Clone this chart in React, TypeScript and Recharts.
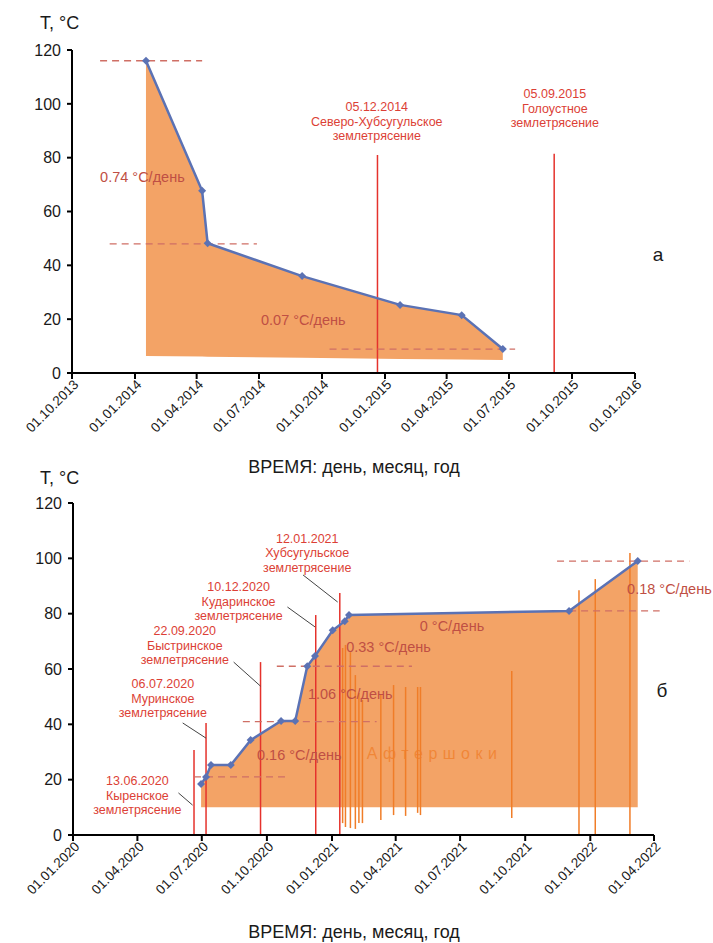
import React from 'react'
import { ComposedChart, Area, Line, XAxis, YAxis, ReferenceLine, Scatter } from 'recharts'

const FONT = '"Liberation Sans", Arial, sans-serif'
const FILL = '#f3a366'
const BLUE = '#5b72b4'
const QUAKE = '#e5322c'
const QUAKE_TEXT = '#dc3f36'
const RATE_TEXT = '#bf4f44'
const DASH = '#cf6f65'
const SHOCK = '#f07d28'

// panel а
const topTicks = ['01.10.2013', '01.01.2014', '01.04.2014', '01.07.2014', '01.10.2014', '01.01.2015', '01.04.2015', '01.07.2015', '01.10.2015', '01.01.2016']
const topDates = ['17.01.2014', '09.04.2014', '17.04.2014', '02.09.2014', '23.01.2015', '23.04.2015', '22.06.2015']
const topTemps = [116, 67.7, 48.2, 36, 25.3, 21.5, 8.9]
const topBase = [6.3, 6.1, 6.0, 5.7, 5.2, 5.0, 4.8]
const topQuakeDates = ['21.12.2014', '05.09.2015']
const topQuakeTops = [81, 81.5]
const topQuakeNames = [['05.12.2014', 'Северо-Хубсугульское', 'землетрясение'], ['05.09.2015', 'Голоустное', 'землетрясение']]
const topQuakeLabelAt: [string, number][] = [['20.12.2014', 98.9], ['06.09.2015', 103.7]]
const topLevels = [116, 48, 8.9]
const topLevelSpans = [['11.11.2013', '09.04.2014'], ['25.11.2013', '28.06.2014'], ['12.10.2014', '10.07.2015']]
const topRates = ['0.74 °C/день', '0.07 °C/день']
const topRateAt: [string, number][] = [['11.11.2013', 72.9], ['04.07.2014', 19.7]]

// panel б
const bottomTicks = ['01.01.2020', '01.04.2020', '01.07.2020', '01.10.2020', '01.01.2021', '01.04.2021', '01.07.2021', '01.10.2021', '01.01.2022', '01.04.2022']
const bottomDates = ['30.06.2020', '07.07.2020', '14.07.2020', '11.08.2020', '08.09.2020', '21.10.2020', '10.11.2020', '27.11.2020', '08.12.2020', '02.01.2021', '19.01.2021', '25.01.2021', '02.12.2021', '09.03.2022']
const bottomTemps = [18.4, 21, 25.3, 25.3, 34.3, 41.2, 41.2, 61, 64.7, 74, 77.3, 79.5, 81, 99]
const bottomBase = [10, 10, 10, 10, 10, 10, 10, 10, 10, 10, 10, 10, 10, 10]
const bottomQuakeDates = ['20.06.2020', '07.07.2020', '22.09.2020', '09.12.2020', '12.01.2021']
const bottomQuakeTops = [30.7, 40.5, 62.5, 79.5, 87.5]
const bottomQuakeNames = [
  ['13.06.2020', 'Кыренское', 'землетрясение'],
  ['06.07.2020', 'Муринское', 'землетрясение'],
  ['22.09.2020', 'Быстринское', 'землетрясение'],
  ['10.12.2020', 'Кударинское', 'землетрясение'],
  ['12.01.2021', 'Хубсугульское', 'землетрясение'],
]
const bottomQuakeLabelAt: [string, number][] = [['01.04.2020', 19.5], ['07.05.2020', 54.6], ['07.06.2020', 73.7], ['22.08.2020', 89.6], ['27.11.2020', 107.3]]
const leaderFrom: [string, number][] = [['29.05.2020', 15.2], ['04.06.2020', 40.5], ['15.08.2020', 62.5], ['30.10.2020', 82.4], ['21.11.2020', 94]]
const leaderTo: [string, number][] = [['18.06.2020', 10.8], ['07.07.2020', 35], ['22.09.2020', 53.8], ['08.12.2020', 75.2], ['09.01.2021', 84.2]]
const bottomLevels = [21, 41, 61, 81, 99]
const bottomLevelSpans = [['20.06.2020', '30.10.2020'], ['28.08.2020', '05.03.2021'], ['15.10.2020', '24.04.2021'], ['02.12.2021', '09.04.2022'], ['15.11.2021', '21.05.2022']]
const bottomRates = ['0.16 °C/день', '1.06 °C/день', '0.33 °C/день', '0 °C/день', '0.18 °C/день']
const bottomRateAt: [string, number][] = [['17.09.2020', 28.9], ['28.11.2020', 51], ['21.01.2021', 67.9], ['05.05.2021', 75.5], ['22.02.2022', 88.9]]
const shockDates = ['16.01.2021', '20.01.2021', '27.01.2021', '03.02.2021', '08.02.2021', '13.02.2021', '11.03.2021', '29.03.2021', '15.04.2021', '02.05.2021', '06.05.2021', '12.09.2021', '16.12.2021', '08.01.2022', '26.02.2022']
const shockTops = [67.6, 68.7, 66.1, 57.8, 51.3, 48.8, 50.6, 54.2, 53.5, 53.5, 53.5, 59.3, 88.5, 92.5, 101.9]
const shockBottoms = [4.3, 2.9, 2.5, 2.2, 4.3, 4.3, 5.4, 7.2, 6.9, 8, 7.2, 6.1, 0, 0, 0]
const shockTitle = 'Афтершоки'
const shockTitleAt: [string, number] = ['19.02.2021', 29.6]

function d(s: string) {
  const [dd, mm, yy] = s.split('.').map(Number)
  return Date.UTC(yy, mm - 1, dd)
}

function fmt(t: number) {
  const x = new Date(t)
  const p = (n: number) => String(n).padStart(2, '0')
  return `${p(x.getUTCDate())}.${p(x.getUTCMonth() + 1)}.${x.getUTCFullYear()}`
}

const AXIS = { stroke: '#000', strokeWidth: 2 }

function DateTick({ x, y, payload }: any) {
  return (
    <g transform={`translate(${x + 4},${y + 1})`}>
      <text x={0} y={0} dy="0.35em" textAnchor="end" transform="rotate(-45)" fontSize={13.5} fill="#1a1a1a" fontFamily={FONT}>
        {fmt(payload.value)}
      </text>
    </g>
  )
}

function Diamond({ cx, cy }: any) {
  if (cx == null || cy == null) return null
  return <path d={`M${cx},${cy - 4}L${cx + 4},${cy}L${cx},${cy + 4}L${cx - 4},${cy}Z`} fill={BLUE} />
}

function NoteShape({ cx, cy, payload }: any) {
  if (cx == null || cy == null) return null
  if (payload.kind === 'quake') {
    return (
      <text x={cx} y={cy} textAnchor="middle" fontSize={12.5} fill={QUAKE_TEXT} fontFamily={FONT}>
        {payload.lines.map((l: string, i: number) => (
          <tspan key={i} x={cx} dy={i === 0 ? '0.35em' : 14.5}>{l}</tspan>
        ))}
      </text>
    )
  }
  if (payload.kind === 'shock') {
    return (
      <text x={cx} y={cy} dy="0.35em" fontSize={16} letterSpacing={5.5} fill={SHOCK} fillOpacity={0.75} fontFamily={FONT}>
        {payload.lines[0]}
      </text>
    )
  }
  return (
    <text x={cx} y={cy} dy="0.35em" fontSize={14.5} fill={RATE_TEXT} fontFamily={FONT}>
      {payload.lines[0]}
    </text>
  )
}

function Panel({ height, margin, ticks, dates, temps, base, quakeDates, quakeTops, levels, levelSpans, leaders, shocks, notes }: any) {
  const data = dates.map((s: string, i: number) => ({ x: d(s), t: temps[i], range: [base[i], temps[i]] }))
  const tickVals = ticks.map(d)
  return (
    <ComposedChart width={713} height={height} data={data} margin={margin}>
      <XAxis
        dataKey="x"
        type="number"
        domain={[tickVals[0], tickVals[tickVals.length - 1]]}
        ticks={tickVals}
        interval={0}
        tick={<DateTick />}
        tickSize={6}
        height={80}
        axisLine={AXIS}
        tickLine={AXIS}
      />
      <YAxis
        type="number"
        domain={[0, 120]}
        ticks={[0, 20, 40, 60, 80, 100, 120]}
        width={50}
        tickSize={5}
        tickMargin={6}
        tick={{ fontSize: 16, fill: '#1a1a1a', fontFamily: FONT }}
        axisLine={AXIS}
        tickLine={AXIS}
      />
      <Area dataKey="range" type="linear" stroke="none" fill={FILL} fillOpacity={1} isAnimationActive={false} />
      {shocks.map((s: any, i: number) => (
        <ReferenceLine key={'s' + i} segment={[{ x: s.x, y: s.bottom }, { x: s.x, y: s.top }]} stroke={SHOCK} strokeWidth={1.5} ifOverflow="visible" />
      ))}
      {quakeDates.map((q: string, i: number) => (
        <ReferenceLine key={'q' + i} segment={[{ x: d(q), y: 0 }, { x: d(q), y: quakeTops[i] }]} stroke={QUAKE} strokeWidth={1.5} ifOverflow="visible" />
      ))}
      {levels.map((lv: number, i: number) => (
        <ReferenceLine key={'l' + i} segment={[{ x: d(levelSpans[i][0]), y: lv }, { x: d(levelSpans[i][1]), y: lv }]} stroke={DASH} strokeWidth={1.3} strokeDasharray="7 5" ifOverflow="visible" />
      ))}
      {leaders.map((ld: any, i: number) => (
        <ReferenceLine key={'ld' + i} segment={[{ x: d(ld[0][0]), y: ld[0][1] }, { x: d(ld[1][0]), y: ld[1][1] }]} stroke="#444" strokeWidth={1} ifOverflow="visible" />
      ))}
      <Line dataKey="t" type="linear" stroke={BLUE} strokeWidth={2.5} dot={(p: any) => <Diamond key={p.index} {...p} />} isAnimationActive={false} />
      <Scatter data={notes} dataKey="t" shape={(p: any) => <NoteShape {...p} />} isAnimationActive={false} />
    </ComposedChart>
  )
}

const topNotes = [
  ...topQuakeNames.map((lines, i) => ({ x: d(topQuakeLabelAt[i][0]), t: topQuakeLabelAt[i][1], lines, kind: 'quake' })),
  ...topRates.map((r, i) => ({ x: d(topRateAt[i][0]), t: topRateAt[i][1], lines: [r], kind: 'rate' })),
]

const bottomNotes = [
  ...bottomQuakeNames.map((lines, i) => ({ x: d(bottomQuakeLabelAt[i][0]), t: bottomQuakeLabelAt[i][1], lines, kind: 'quake' })),
  ...bottomRates.map((r, i) => ({ x: d(bottomRateAt[i][0]), t: bottomRateAt[i][1], lines: [r], kind: 'rate' })),
  { x: d(shockTitleAt[0]), t: shockTitleAt[1], lines: [shockTitle], kind: 'shock' },
]

const shocks = shockDates.map((s, i) => ({ x: d(s), top: shockTops[i], bottom: shockBottoms[i] }))
const leaders = leaderFrom.map((f, i) => [f, leaderTo[i]])

export default function App() {
  const txt = { fontFamily: FONT, fill: '#1a1a1a' }
  return (
    <div style={{ position: 'relative', width: 713, height: 943, background: '#fff', overflow: 'hidden' }}>
      <style>{'body{margin:0}'}</style>
      <div style={{ position: 'absolute', left: 0, top: 0 }}>
        <Panel
          height={480}
          margin={{ top: 50, right: 78, left: 22, bottom: 27 }}
          ticks={topTicks}
          dates={topDates}
          temps={topTemps}
          base={topBase}
          quakeDates={topQuakeDates}
          quakeTops={topQuakeTops}
          levels={topLevels}
          levelSpans={topLevelSpans}
          leaders={[]}
          shocks={[]}
          notes={topNotes}
        />
      </div>
      <div style={{ position: 'absolute', left: 0, top: 470 }}>
        <Panel
          height={473}
          margin={{ top: 33, right: 59, left: 23, bottom: 28 }}
          ticks={bottomTicks}
          dates={bottomDates}
          temps={bottomTemps}
          base={bottomBase}
          quakeDates={bottomQuakeDates}
          quakeTops={bottomQuakeTops}
          levels={bottomLevels}
          levelSpans={bottomLevelSpans}
          leaders={leaders}
          shocks={shocks}
          notes={bottomNotes}
        />
      </div>
      <svg width={713} height={943} style={{ position: 'absolute', left: 0, top: 0, pointerEvents: 'none' }}>
        <text x={40} y={23} dy="0.35em" fontSize={18} {...txt}>T, °C</text>
        <text x={354} y={467} dy="0.35em" fontSize={18} textAnchor="middle" {...txt}>ВРЕМЯ: день, месяц, год</text>
        <text x={658} y={254} dy="0.35em" fontSize={19} textAnchor="middle" {...txt}>а</text>
        <text x={40} y={478} dy="0.35em" fontSize={18} {...txt}>T, °C</text>
        <text x={354} y={932} dy="0.35em" fontSize={18} textAnchor="middle" {...txt}>ВРЕМЯ: день, месяц, год</text>
        <text x={662} y={690} dy="0.35em" fontSize={19} textAnchor="middle" {...txt}>б</text>
      </svg>
    </div>
  )
}
